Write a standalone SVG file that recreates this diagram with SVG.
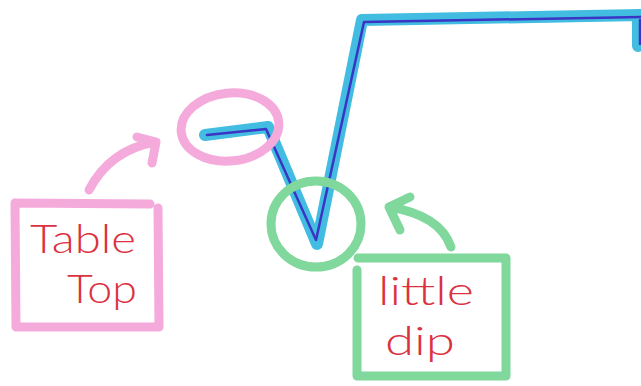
<svg xmlns="http://www.w3.org/2000/svg" width="641" height="386" viewBox="0 0 641 386">
  <defs>
    <style>
      .pink { fill: none; stroke: #f5aadc; stroke-width: 9; stroke-linecap: round; stroke-linejoin: round; }
      .green { fill: none; stroke: #80d89c; stroke-width: 9; stroke-linecap: round; stroke-linejoin: round; }
      .cyan { fill: none; stroke: #42bce0; stroke-width: 12; stroke-linecap: round; stroke-linejoin: round; }
      .ink { fill: none; stroke: #3a35c4; stroke-width: 2.5; stroke-linecap: round; stroke-linejoin: round; }
      .label { font-family: "Lato", "Liberation Sans", sans-serif; font-weight: 300; font-size: 40px; fill: #dc3140; }
    </style>
  </defs>
  <rect width="641" height="386" fill="#ffffff"/>

  <g id="curve">
    <path class="cyan" d="M205,135 L268,127 L317,244 L362,20 L641,15 M638,17 L638,46"/>
    <path class="ink" d="M207,135 L266,129 L316,240 L364,22 L641,17 M640,20 L640,44"/>
  </g>

  <g id="table-top-marker">
    <ellipse class="pink" cx="230" cy="127" rx="49" ry="34" transform="rotate(-6 230 127)"/>
  </g>

  <g id="little-dip-marker">
    <ellipse class="green" cx="316" cy="224" rx="45" ry="43"/>
  </g>

  <g id="table-top">
    <path class="pink" d="M16,203 L150,204 M158,208 L159,327 L16,327 L15,203"/>
    <text class="label" x="30" y="253" textLength="106" lengthAdjust="spacingAndGlyphs">Table</text>
    <text class="label" x="67" y="303" textLength="70" lengthAdjust="spacingAndGlyphs">Top</text>
  </g>

  <g id="little-dip">
    <path class="green" d="M358,258 L506,258 L506,376 L357,376 L357,270"/>
    <text class="label" x="378" y="305" textLength="96" lengthAdjust="spacingAndGlyphs">little</text>
    <text class="label" x="385" y="355" textLength="70" lengthAdjust="spacingAndGlyphs">dip</text>
  </g>

  <g id="connectors">
    <path class="pink" d="M89,190 Q110,150 155,142 M137,137 L156,142 L152,163"/>
    <path class="green" d="M451,247 Q440,215 389,207 M410,197 L389,207 L400,230"/>
  </g>
</svg>
